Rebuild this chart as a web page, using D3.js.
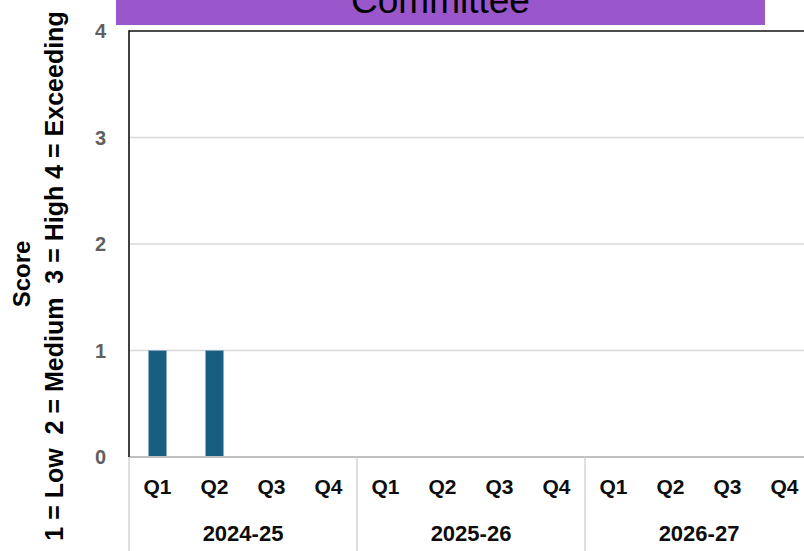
<!DOCTYPE html>
<html>
<head>
<meta charset="utf-8">
<script src="https://cdn.jsdelivr.net/npm/d3@7"></script>
<style>
  html, body { margin: 0; padding: 0; background: #fff; overflow: hidden; }
  svg { display: block; font-family: "Liberation Sans", Arial, sans-serif; }
</style>
</head>
<body>
<svg id="chart" width="804" height="551"></svg>
<script>
// ---- Data ----
const years = ["2024-25", "2025-26", "2026-27"];
const quarters = ["Q1", "Q2", "Q3", "Q4"];
const scores = [1, 1, null, null, null, null, null, null, null, null, null, null];
const yTicks = [0, 1, 2, 3, 4];
const titleText = "Committee";
const yTitleLine1 = "Score";
const yTitleLine2 = "1 = Low  2 = Medium  3 = High 4 = Exceeding";

(function () {
const cats = [];
years.forEach(y => quarters.forEach(q => cats.push({ year: y, q: q, key: y + "|" + q })));
cats.forEach((c, i) => c.value = scores[i]);

const svg = d3.select("#chart");
const pLeft = 129, pTop = 31, pBottom = 457, pRight = 813;

const x = d3.scaleBand()
  .domain(cats.map(c => c.key))
  .range([pLeft, pRight])
  .paddingInner(0.684)
  .paddingOuter(0.342);
const step = x.step();

const y = d3.scaleLinear().domain([0, 4]).range([pBottom, pTop]);

// Title banner
svg.append("rect").attr("x", 116).attr("y", 0).attr("width", 649).attr("height", 25)
  .attr("fill", "#9a57cb");
svg.append("text").attr("x", 440.5).attr("y", 13).attr("text-anchor", "middle")
  .attr("font-size", 37).attr("fill", "#000").text(titleText);

// Gridlines
svg.append("g").selectAll("line").data(yTicks.filter(t => t > 0 && t < 4)).join("line")
  .attr("x1", pLeft).attr("x2", 804)
  .attr("y1", d => y(d)).attr("y2", d => y(d))
  .attr("stroke", "#d9d9d9").attr("stroke-width", 1.5);

// Plot border top
svg.append("line").attr("x1", pLeft).attr("x2", 804).attr("y1", y(4)).attr("y2", y(4))
  .attr("stroke", "#111").attr("stroke-width", 1.6);

// Bars
svg.append("g").selectAll("rect").data(cats.filter(c => c.value != null)).join("rect")
  .attr("x", d => x(d.key)).attr("width", x.bandwidth())
  .attr("y", d => y(d.value)).attr("height", d => y(0) - y(d.value))
  .attr("fill", "#185e81").attr("stroke", "#8fb0c4").attr("stroke-width", 0.6);

// Category axis line
svg.append("line").attr("x1", pLeft).attr("x2", 804).attr("y1", pBottom).attr("y2", pBottom)
  .attr("stroke", "#bfbfbf").attr("stroke-width", 2);

// Year separators
const sepX = years.map((yr, i) => x(cats[i * 4].key) - (step - x.bandwidth()) / 2);
svg.append("g").selectAll("line").data(sepX).join("line")
  .attr("x1", d => d).attr("x2", d => d).attr("y1", pBottom).attr("y2", 551)
  .attr("stroke", "#d4d4d4").attr("stroke-width", 1.5);

// Left axis line
svg.append("line").attr("x1", pLeft).attr("x2", pLeft).attr("y1", pTop - 0.8).attr("y2", pBottom)
  .attr("stroke", "#111").attr("stroke-width", 1.6);

// Y tick labels
svg.append("g").selectAll("text").data(yTicks).join("text")
  .attr("x", 106).attr("y", d => y(d)).attr("dy", "0.35em")
  .attr("text-anchor", "end").attr("font-size", 20).attr("font-weight", "bold")
  .attr("fill", "#5f5f5f").text(d => d);

// Quarter labels
svg.append("g").selectAll("text").data(cats).join("text")
  .attr("x", d => x(d.key) + x.bandwidth() / 2).attr("y", 494)
  .attr("text-anchor", "middle").attr("font-size", 21).attr("font-weight", "bold")
  .attr("fill", "#0d0d0d").text(d => d.q);

// Year labels
svg.append("g").selectAll("text").data(years).join("text")
  .attr("x", (d, i) => sepX[i] + step * 2).attr("y", 541)
  .attr("text-anchor", "middle").attr("font-size", 22).attr("font-weight", "bold")
  .attr("fill", "#0d0d0d").text(d => d);

// Y axis title
const yc = 276;
svg.append("text").attr("transform", `translate(30,${yc - 2}) rotate(-90)`)
  .attr("text-anchor", "middle").attr("font-size", 24).attr("font-weight", "bold")
  .attr("fill", "#000").text(yTitleLine1);
svg.append("text").attr("transform", `translate(63,${yc}) rotate(-90)`)
  .attr("text-anchor", "middle").attr("font-size", 25).attr("font-weight", "bold")
  .attr("fill", "#000").style("white-space", "pre").attr("xml:space", "preserve")
  .text(yTitleLine2);
})();
</script>
</body>
</html>
